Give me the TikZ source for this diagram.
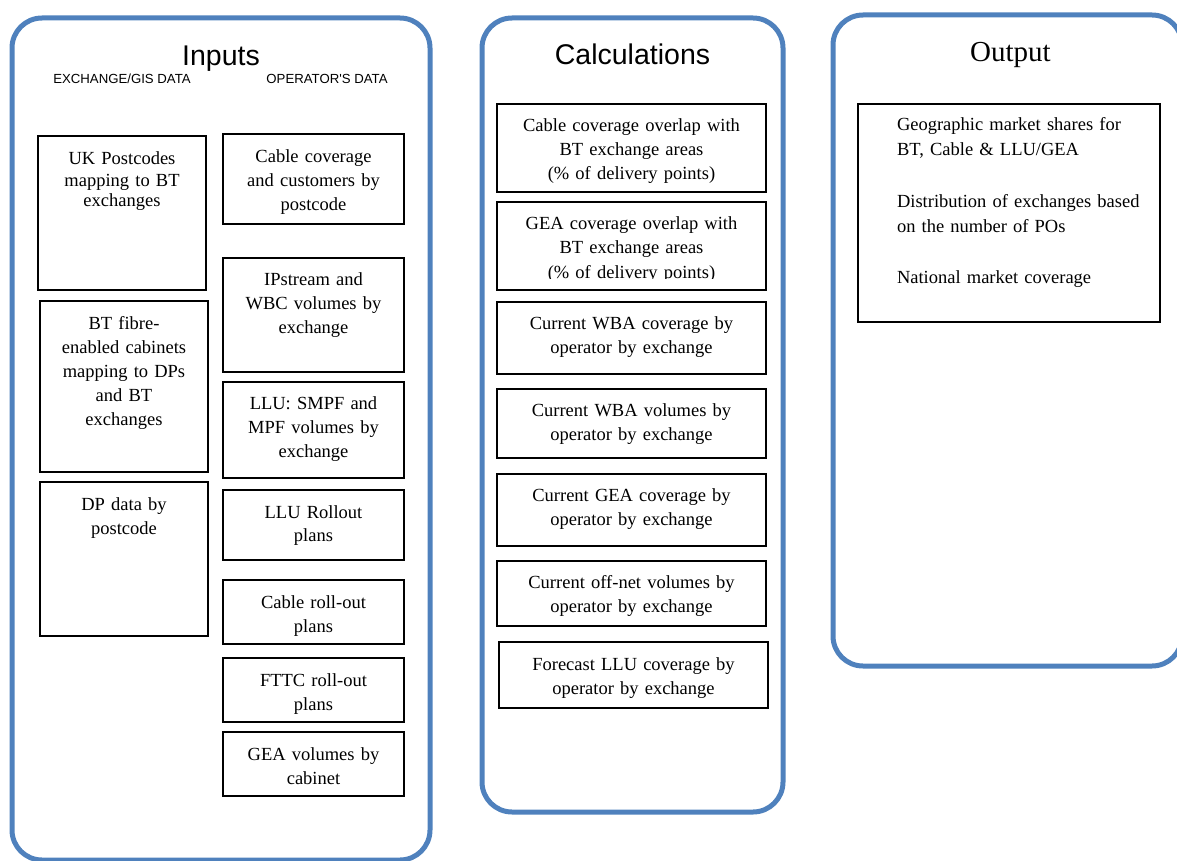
\documentclass[tikz,border=0pt]{standalone}
\usepackage{fontspec}
\setmainfont{Liberation Serif}
\newfontfamily\arialfont{Liberation Sans}
\definecolor{frameblue}{RGB}{79,129,189}
\begin{document}
\begin{tikzpicture}[x=1pt,y=-1pt,
  frame/.style={draw=frameblue, line width=5pt, rounded corners=30pt, inner sep=0pt, outer sep=0pt},
  box/.style={draw=black, line width=1.2pt, inner sep=0pt, outer sep=0pt},
  txt/.style={inner sep=0pt, outer sep=0pt, align=center, text width=260pt, anchor=base,
              font=\fontsize{18.5}{24}\selectfont},
  title/.style={inner sep=0pt, anchor=base, font=\arialfont\fontsize{28.5}{30}\selectfont},
  sub/.style={inner sep=0pt, anchor=base, font=\arialfont\fontsize{13.2}{15}\selectfont}]
\useasboundingbox (0,0) rectangle (1177,861);
\clip (0,0) rectangle (1177,861);

% ---------- containers ----------
\node[frame, minimum width=418pt, minimum height=842pt] (inputs) at (221,439) {};
\node[frame, minimum width=301pt, minimum height=794pt] (calc) at (632.5,415) {};
\node[frame, minimum width=349pt, minimum height=651pt] (output) at (1007.5,340.5) {};

% ---------- titles ----------
\node[title] (tinputs) at (221,66) {Inputs};
\node[title] (tcalc) at (632.5,65) {Calculations};
\node[inner sep=0pt, anchor=base, font=\fontsize{29}{30}\selectfont] (toutput) at (1010.5,62) {Output};
\node[sub] (sexch) at (122,84) {EXCHANGE/GIS DATA};
\node[sub] (soper) at (327,84) {OPERATOR'S DATA};

% ---------- inputs: left column ----------
\node[box, minimum width=168pt, minimum height=154pt] (uk) at (122,213) {};
\node[txt, font=\fontsize{18.5}{21}\selectfont] (ukt) at (122,165) {UK Postcodes\\mapping to BT\\exchanges};

\node[box, minimum width=168pt, minimum height=171pt] (fibre) at (124,386.5) {};
\node[txt] (fibret) at (124,329) {BT fibre-\\enabled cabinets\\mapping to DPs\\and BT\\exchanges};

\node[box, minimum width=168pt, minimum height=154pt] (dp) at (124,559) {};
\node[txt] (dpt) at (124,510) {DP data by\\postcode};

% ---------- inputs: right column ----------
\node[box, minimum width=181pt, minimum height=90pt] (cabcov) at (313.5,179) {};
\node[txt] (cabcovt) at (313.5,163) {Cable coverage\\and customers by\\postcode};

\node[box, minimum width=181pt, minimum height=114pt] (ipstream) at (313.5,315) {};
\node[txt] (ipstreamt) at (313.5,285) {IPstream and\\WBC volumes by\\exchange};

\node[box, minimum width=181pt, minimum height=96pt] (llu) at (313.5,430) {};
\node[txt] (llut) at (313.5,409) {LLU: SMPF and\\MPF volumes by\\exchange};

\node[box, minimum width=181pt, minimum height=70pt] (lluroll) at (313.5,525) {};
\node[txt, font=\fontsize{18.5}{23.5}\selectfont] (llurollt) at (313.5,518) {LLU Rollout\\plans};

\node[box, minimum width=181pt, minimum height=64pt] (cabroll) at (313.5,612) {};
\node[txt] (cabrollt) at (313.5,608) {Cable roll-out\\plans};

\node[box, minimum width=181pt, minimum height=64pt] (fttc) at (313.5,690) {};
\node[txt] (fttct) at (313.5,686.5) {FTTC roll-out\\plans};

\node[box, minimum width=181pt, minimum height=64pt] (geavol) at (313.5,764) {};
\node[txt] (geavolt) at (313.5,760) {GEA volumes by\\cabinet};

% ---------- calculations ----------
\node[box, minimum width=269pt, minimum height=88pt] (c1) at (631.5,148) {};
\node[txt] (c1t) at (631.5,132) {Cable coverage overlap with\\BT exchange areas\\(\% of delivery points)};

\node[box, minimum width=269pt, minimum height=88pt] (c2) at (631.5,246) {};
\begin{scope}
  \clip (497,202) rectangle (766,278.5);
  \node[txt, font=\fontsize{18.5}{24.5}\selectfont] (c2t) at (631.5,229.3) {GEA coverage overlap with\\BT exchange areas\\(\% of delivery points)};
\end{scope}

\node[box, minimum width=269pt, minimum height=72pt] (c3) at (631.5,338) {};
\node[txt] (c3t) at (631.5,329.5) {Current WBA coverage by\\operator by exchange};

\node[box, minimum width=269pt, minimum height=69pt] (c4) at (631.5,423.5) {};
\node[txt] (c4t) at (631.5,416.7) {Current WBA volumes by\\operator by exchange};

\node[box, minimum width=269pt, minimum height=72pt] (c5) at (631.5,510) {};
\node[txt] (c5t) at (631.5,501.7) {Current GEA coverage by\\operator by exchange};

\node[box, minimum width=269pt, minimum height=65pt] (c6) at (631.5,593.5) {};
\node[txt] (c6t) at (631.5,588.3) {Current off-net volumes by\\operator by exchange};

\node[box, minimum width=269pt, minimum height=66pt] (c7) at (633.5,675) {};
\node[txt] (c7t) at (633.5,670) {Forecast LLU coverage by\\operator by exchange};

% ---------- output ----------
\node[box, minimum width=302pt, minimum height=218pt] (out) at (1009,213) {};
\node[inner sep=0pt, outer sep=0pt, align=left, text width=255pt, anchor=base west,
      font=\fontsize{18.5}{25}\selectfont] (outt) at (897,131)
  {Geographic market shares for\\BT, Cable \& LLU/GEA\\[27pt]Distribution of exchanges based\\on the number of POs\\[26pt]National market coverage};
\end{tikzpicture}
\end{document}
